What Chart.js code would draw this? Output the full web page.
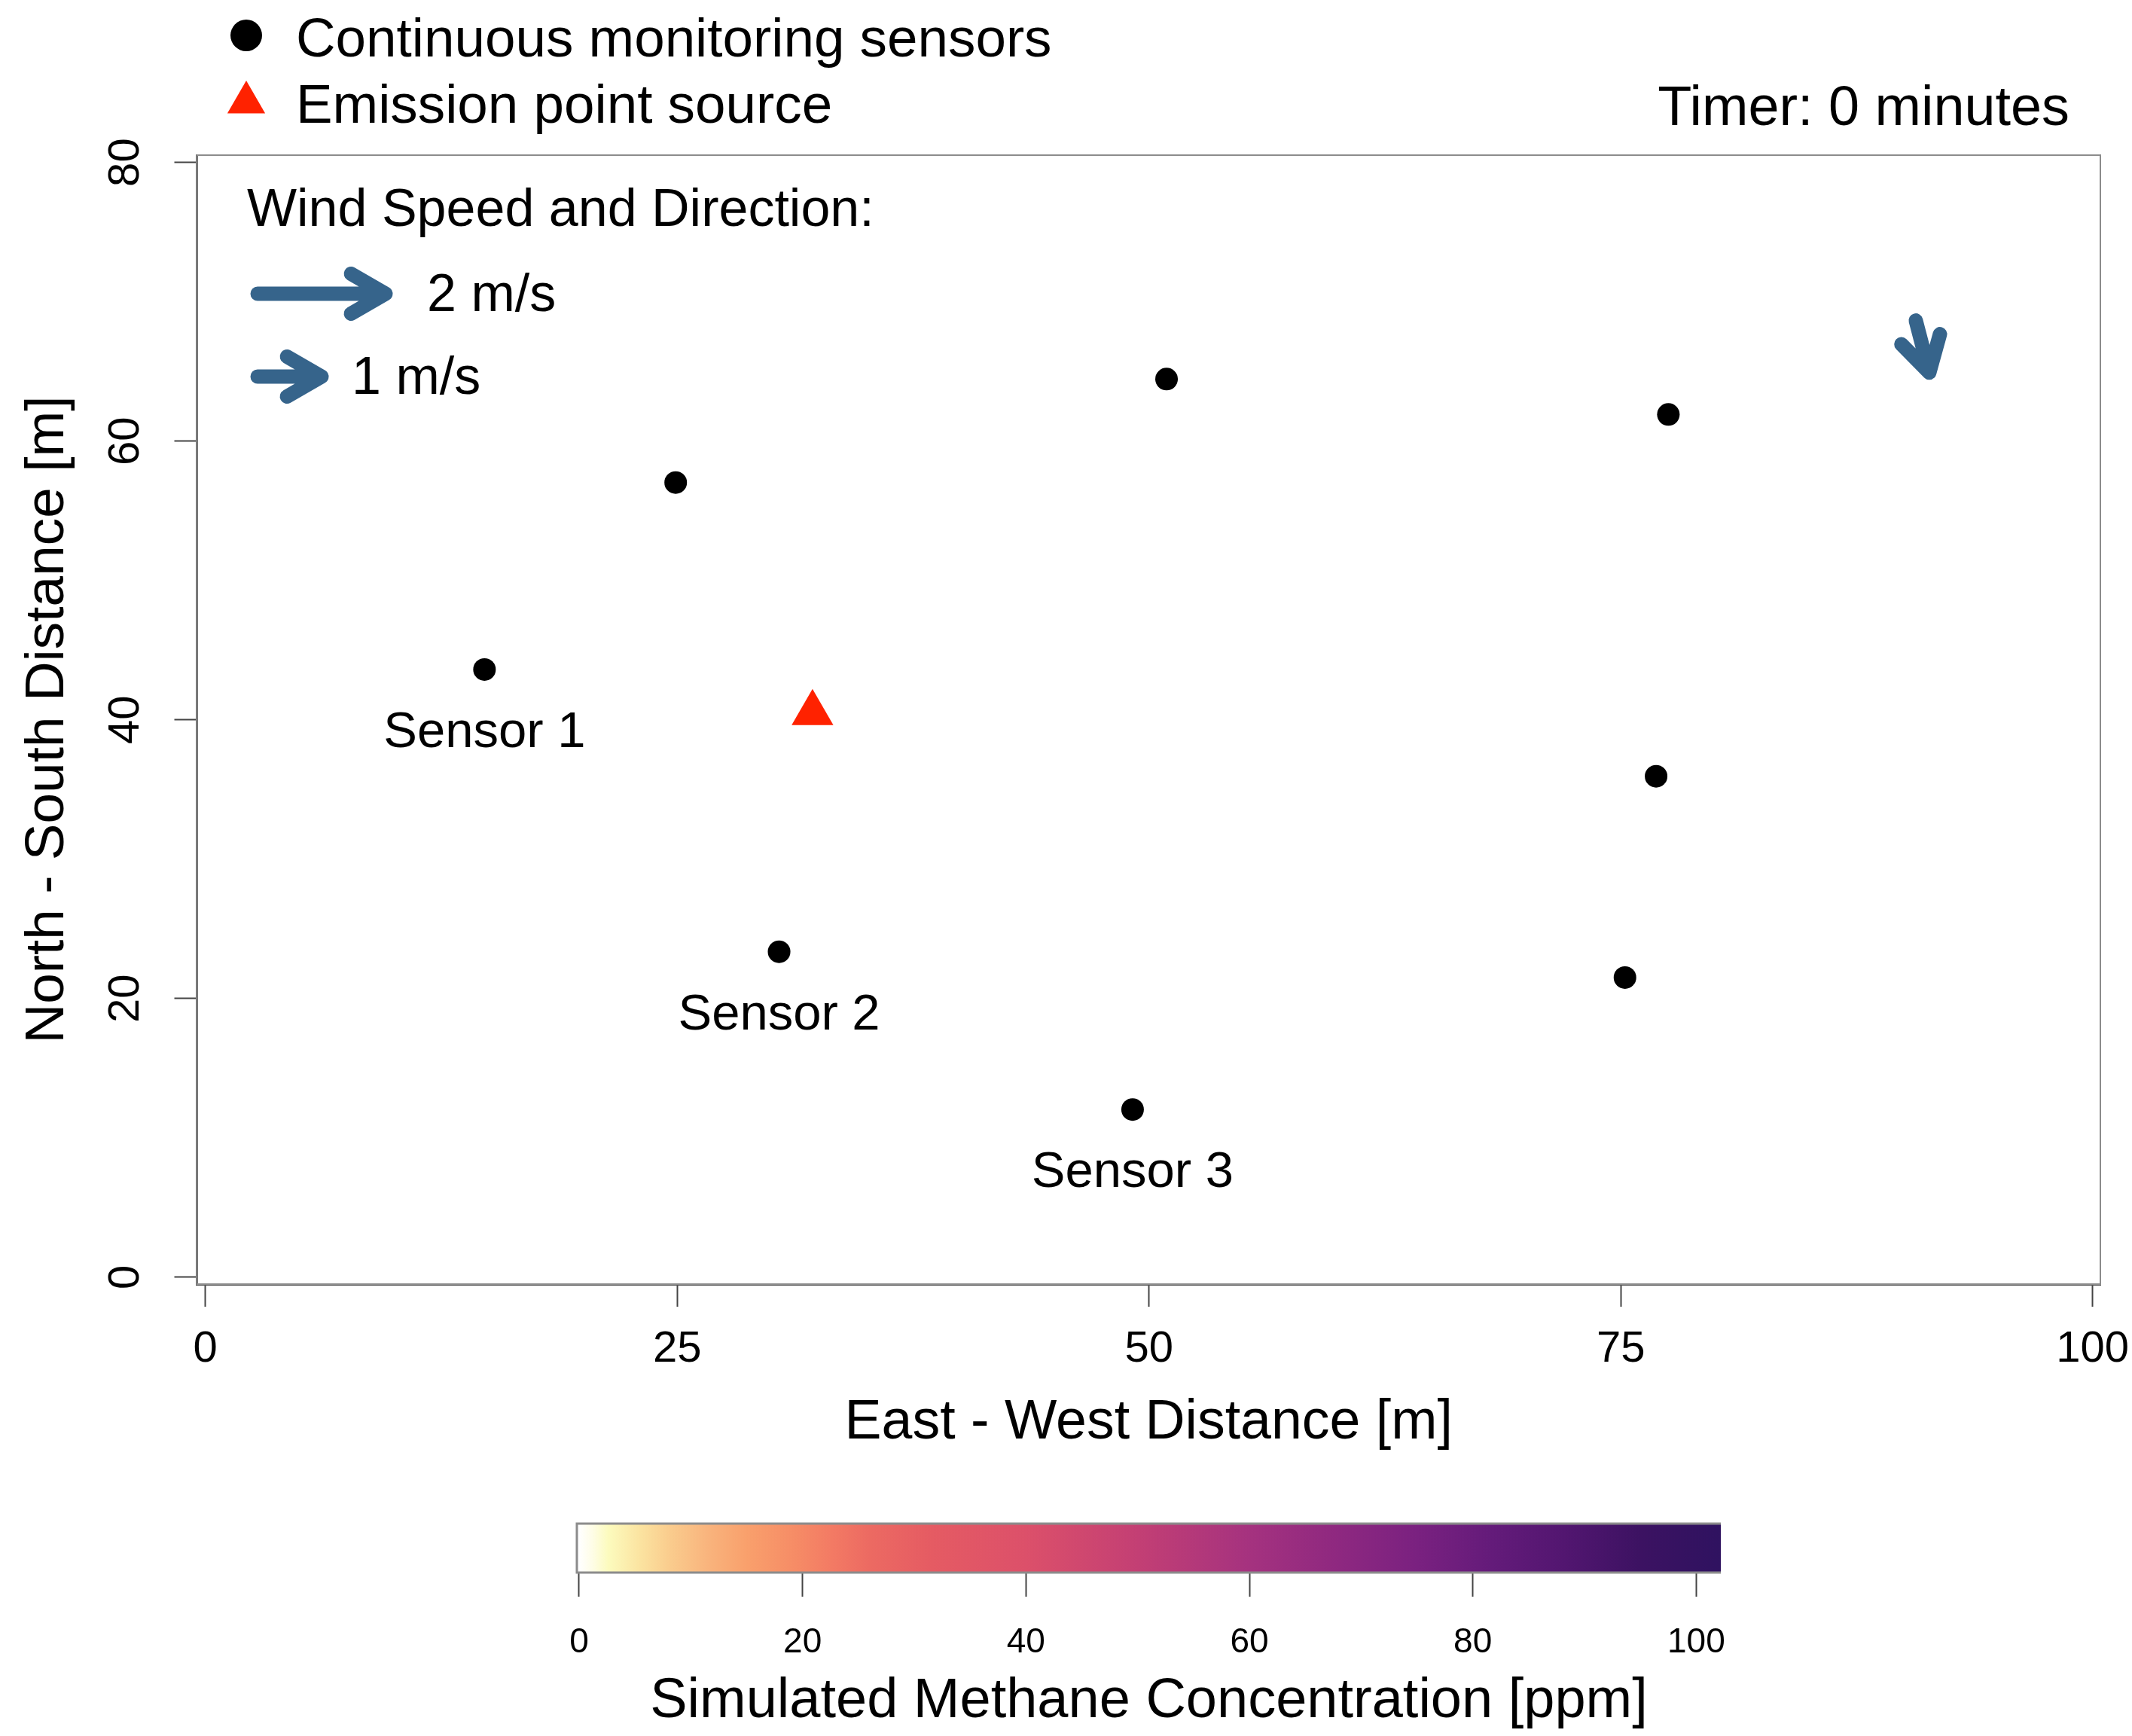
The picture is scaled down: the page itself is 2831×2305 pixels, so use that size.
<!DOCTYPE html>
<html><head><meta charset="utf-8">
<script src="https://cdn.jsdelivr.net/npm/chart.js@4.4.1/dist/chart.umd.min.js"></script>
<style>
html,body{margin:0;padding:0;background:#fff;}
#wrap{position:relative;width:2831px;height:2305px;background:#fff;}
#main{position:absolute;left:0;top:0;}
#cbar{position:absolute;left:0;top:1960px;}
</style></head><body>
<div id="wrap"><canvas id="main" width="2831" height="1960"></canvas><canvas id="cbar" width="2831" height="345"></canvas></div>
<script>
// ---------------- data ----------------
const sensorX = [14.79, 24.92, 50.93, 77.52, 76.87, 75.22, 30.40, 49.13];
const sensorY = [43.61, 57.03, 64.45, 61.91, 35.95, 21.51, 23.36, 12.04];
const sensorLabels = ['Sensor 1', '', '', '', '', '', 'Sensor 2', 'Sensor 3'];
const sourceX = [32.17];
const sourceY = [40.49];
const windX = [90.63];
const windY = [68.65];
const windSpeed = [0.84];        // m/s
const windToDeg = [165.4];       // bearing the wind blows toward
const windLegendSpeeds = [2, 1];
const windLegendLabels = ['2 m/s', '1 m/s'];
const legendLabels = ['Continuous monitoring sensors', 'Emission point source'];
const timerMinutes = 0;
const xTicks = [0, 25, 50, 75, 100];
const yTicks = [0, 20, 40, 60, 80];
const concTicks = [0, 20, 40, 60, 80, 100];
const concStops = [0, 1.2, 2.6, 5.5, 8, 11.5, 15, 19.3, 22.7, 26, 31.6, 40, 50, 60, 68, 75, 81.6, 88.3, 95, 102.2];
const concColors = ['#FFFFFF','#FEFDE6','#FCFBBE','#FBE3A0','#FACD8E','#F9B47D','#F9A06C','#F68C66','#F37A64','#EC6A62','#E55B63','#DC506A','#C33F74','#A5327F','#8E2880','#7A2180','#641B7A','#521670','#3C1262','#2F1260'];

// ---------------- styles ----------------
const FONT = "'Liberation Sans', Arial, Helvetica, sans-serif";
Chart.defaults.font.family = FONT;
Chart.defaults.color = '#000';
const ARROW_COLOR = '#36648B';
const SRC_COLOR = '#FF2200';
const ARROW_PX_PER_MS = 85;
const ARROW_LW = 19;
const HEAD_LEN = 53;
const HEAD_ANG = 30;

function drawArrow(ctx, x0, y0, x1, y1) {
  const ang = Math.atan2(y1 - y0, x1 - x0);
  const a = HEAD_ANG * Math.PI / 180;
  ctx.save();
  ctx.strokeStyle = ARROW_COLOR; ctx.lineWidth = ARROW_LW;
  ctx.lineCap = 'round'; ctx.lineJoin = 'round';
  ctx.beginPath();
  ctx.moveTo(x0, y0); ctx.lineTo(x1, y1);
  ctx.moveTo(x1 - HEAD_LEN * Math.cos(ang - a), y1 - HEAD_LEN * Math.sin(ang - a));
  ctx.lineTo(x1, y1);
  ctx.lineTo(x1 - HEAD_LEN * Math.cos(ang + a), y1 - HEAD_LEN * Math.sin(ang + a));
  ctx.stroke();
  ctx.restore();
}

function noPad(s) { s.paddingLeft = 0; s.paddingRight = 0; s.paddingTop = 0; s.paddingBottom = 0; }

const overlayPlugin = {
  id: 'overlay',
  beforeDatasetsDraw(chart) {
    const {ctx, chartArea: ca} = chart;
    ctx.save();
    ctx.strokeStyle = '#8c8c8c'; ctx.lineWidth = 2;
    ctx.strokeRect(ca.left, ca.top, ca.right - ca.left, ca.bottom - ca.top);
    ctx.restore();
  },
  afterDatasetsDraw(chart) {
    const {ctx, chartArea: ca} = chart;
    const xs = chart.scales.x, ys = chart.scales.y;
    // sensor labels
    ctx.save();
    ctx.fillStyle = '#000';
    ctx.font = '67px ' + FONT;
    ctx.textAlign = 'center'; ctx.textBaseline = 'alphabetic';
    sensorLabels.forEach((t, i) => {
      if (!t) return;
      ctx.fillText(t, xs.getPixelForValue(sensorX[i]), ys.getPixelForValue(sensorY[i]) + 103);
    });
    ctx.restore();
    // wind arrows
    windX.forEach((wx, i) => {
      const x0 = xs.getPixelForValue(wx), y0 = ys.getPixelForValue(windY[i]);
      const L = windSpeed[i] * ARROW_PX_PER_MS;
      const b = windToDeg[i] * Math.PI / 180;
      drawArrow(ctx, x0, y0, x0 + L * Math.sin(b), y0 - L * Math.cos(b));
    });
    // legend
    ctx.save();
    ctx.fillStyle = '#000';
    ctx.beginPath(); ctx.arc(327, 47, 21, 0, Math.PI * 2); ctx.fill();
    ctx.fillStyle = SRC_COLOR;
    const r = 29, cx = 327, cy = 136;
    ctx.beginPath();
    ctx.moveTo(cx, cy - r);
    ctx.lineTo(cx + r * 0.866, cy + r / 2);
    ctx.lineTo(cx - r * 0.866, cy + r / 2);
    ctx.closePath(); ctx.fill();
    ctx.fillStyle = '#000';
    ctx.font = '72.8px ' + FONT;
    ctx.textAlign = 'left'; ctx.textBaseline = 'alphabetic';
    ctx.fillText(legendLabels[0], 393, 75);
    ctx.fillText(legendLabels[1], 393, 163);
    ctx.textAlign = 'right';
    ctx.font = '73.8px ' + FONT;
    ctx.fillText('Timer: ' + timerMinutes + ' minutes', 2748, 166);
    // wind legend
    ctx.textAlign = 'left';
    ctx.font = '70px ' + FONT;
    const ly = ca.top;
    ctx.fillText('Wind Speed and Direction:', ca.left + 66.5, ly + 94);
    const rowY = [ly + 184, ly + 294];
    const labX = [567, 467];
    windLegendSpeeds.forEach((s, i) => {
      const x0 = ca.left + 80.5;
      drawArrow(ctx, x0, rowY[i], x0 + s * ARROW_PX_PER_MS, rowY[i]);
      ctx.fillStyle = '#000';
      ctx.fillText(windLegendLabels[i], labX[i], rowY[i] + 23);
    });
    ctx.restore();
  }
};

new Chart(document.getElementById('main'), {
  type: 'scatter',
  data: { datasets: [
    { label: legendLabels[0], data: sensorX.map((x, i) => ({x: x, y: sensorY[i]})),
      pointStyle: 'circle', pointRadius: 15, pointHoverRadius: 15, backgroundColor: '#000', borderWidth: 0 },
    { label: legendLabels[1], data: sourceX.map((x, i) => ({x: x, y: sourceY[i]})),
      pointStyle: 'triangle', pointRadius: 32, pointHoverRadius: 32, backgroundColor: SRC_COLOR, borderWidth: 0 }
  ]},
  options: {
    responsive: false, animation: false, events: [],
    layout: { padding: { left: 0, right: 42, top: 206, bottom: 0 } },
    plugins: { legend: { display: false }, tooltip: { enabled: false } },
    scales: {
      x: {
        type: 'linear', min: -0.447, max: 100.41,
        afterBuildTicks: s => { s.ticks = xTicks.map(v => ({value: v})); },
        afterFit: s => { s.height = 255; noPad(s); },
        grid: { display: true, drawOnChartArea: false, drawTicks: true, tickLength: 30, tickColor: '#444', tickWidth: 2 },
        border: { display: true, color: '#555', width: 3 },
        ticks: { font: { size: 58, lineHeight: 1 }, padding: 28, color: '#000', autoSkip: false, maxRotation: 0 },
        title: { display: true, text: 'East - West Distance [m]', color: '#000', font: { size: 73.5, lineHeight: 1 }, padding: { top: 0, bottom: 34 } }
      },
      y: {
        type: 'linear', min: -0.49, max: 80.52,
        afterBuildTicks: s => { s.ticks = yTicks.map(v => ({value: v})); },
        afterFit: s => { s.width = 261.5; noPad(s); },
        grid: { display: true, drawOnChartArea: false, drawTicks: true, tickLength: 30, tickColor: '#444', tickWidth: 2 },
        border: { display: true, color: '#555', width: 3 },
        ticks: { font: { size: 58, lineHeight: 1 }, padding: 31, color: '#000', autoSkip: false, minRotation: 90, maxRotation: 90, crossAlign: 'center' },
        title: { display: true, text: 'North - South Distance [m]', color: '#000', font: { size: 73, lineHeight: 1 }, padding: { top: 27, bottom: 0 } }
      }
    }
  },
  plugins: [overlayPlugin]
});

const colorbarPlugin = {
  id: 'colorbar',
  beforeDatasetsDraw(chart) {
    const {ctx, chartArea: ca} = chart;
    const xs = chart.scales.x;
    const p0 = xs.getPixelForValue(concStops[0]);
    const pN = xs.getPixelForValue(concStops[concStops.length - 1]);
    const g = ctx.createLinearGradient(p0, 0, pN, 0);
    concStops.forEach((v, i) => {
      g.addColorStop(Math.min(1, Math.max(0, (xs.getPixelForValue(v) - p0) / (pN - p0))), concColors[i]);
    });
    ctx.save();
    ctx.fillStyle = g;
    ctx.fillRect(ca.left, ca.top, ca.right - ca.left, ca.bottom - ca.top);
    ctx.strokeStyle = '#8c8c8c'; ctx.lineWidth = 3;
    ctx.beginPath();
    ctx.moveTo(ca.right, ca.top); ctx.lineTo(ca.left, ca.top); ctx.lineTo(ca.left, ca.bottom); ctx.lineTo(ca.right, ca.bottom);
    ctx.stroke();
    ctx.restore();
  }
};

new Chart(document.getElementById('cbar'), {
  type: 'scatter',
  data: { datasets: [] },
  options: {
    responsive: false, animation: false, events: [],
    layout: { padding: { left: 766, right: 546, top: 63, bottom: 0 } },
    plugins: { legend: { display: false }, tooltip: { enabled: false } },
    scales: {
      x: {
        type: 'linear', min: -0.2, max: 102.2,
        afterBuildTicks: s => { s.ticks = concTicks.map(v => ({value: v})); },
        afterFit: s => { s.height = 217; noPad(s); },
        grid: { display: true, drawOnChartArea: false, drawTicks: true, tickLength: 32, tickColor: '#444', tickWidth: 2 },
        border: { display: false },
        ticks: { font: { size: 46, lineHeight: 1 }, padding: 38, color: '#000', autoSkip: false, maxRotation: 0 },
        title: { display: true, text: 'Simulated Methane Concentration [ppm]', color: '#000', font: { size: 74, lineHeight: 1 }, padding: { top: 0, bottom: 8 } }
      },
      y: { display: false, min: 0, max: 1 }
    }
  },
  plugins: [colorbarPlugin]
});
</script>
</body></html>
